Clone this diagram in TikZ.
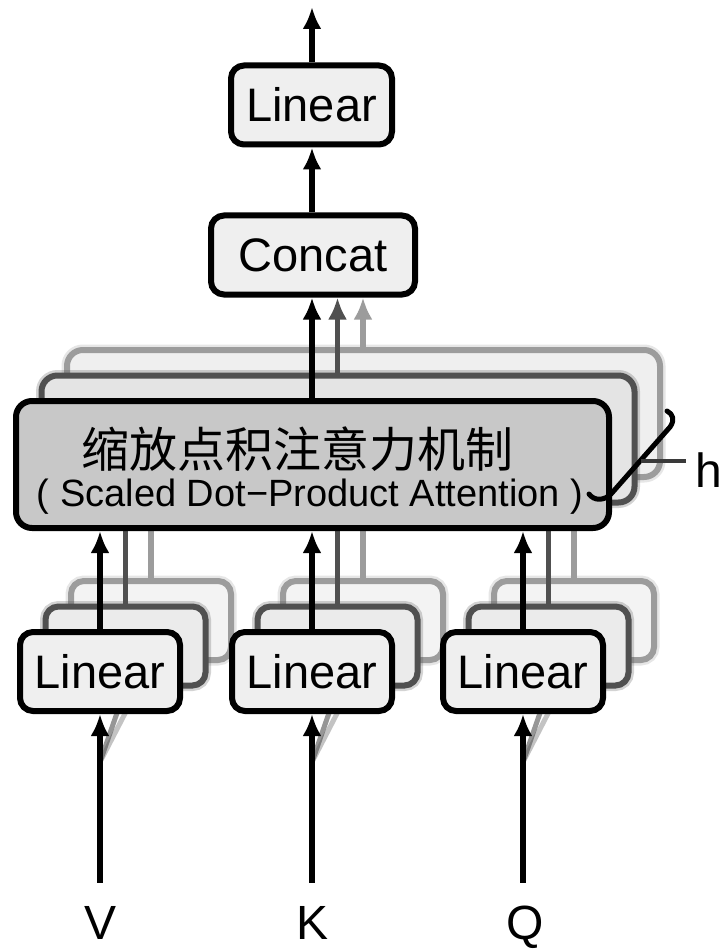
\documentclass[tikz,border=0pt]{standalone}
\usepackage{fontspec}
\setmainfont{Liberation Sans}
\newfontfamily\cjk{Noto Sans CJK SC}
\usetikzlibrary{arrows.meta}

\definecolor{edgeB}{HTML}{9C9C9C}
\definecolor{edgeM}{HTML}{505050}
\definecolor{linB}{HTML}{F3F3F3}
\definecolor{linM}{HTML}{EBEBEB}
\definecolor{linF}{HTML}{EFEFEF}
\definecolor{sdpB}{HTML}{EFEFEF}
\definecolor{sdpM}{HTML}{E4E4E4}
\definecolor{sdpF}{HTML}{C8C8C8}
\definecolor{hline}{HTML}{3A3A3A}

\tikzset{
  blk/.style={rounded corners=13pt, line width=6pt, draw=black, fill=linF,
    minimum width=160pt, minimum height=79pt, inner sep=0pt,
    font=\fontsize{47}{50}\selectfont},
  sdpabox/.style={rounded corners=16pt, line width=6pt, draw=black, fill=sdpF,
    minimum width=593pt, minimum height=127pt, inner sep=0pt},
  soft/.style={preaction={draw=#1, line width=11pt, opacity=0.25}},
  arr/.style={line width=5.5pt, -{Latex[length=22pt,width=19pt]}},
  feed/.style={line width=5pt, opacity=0.6},
  hookline/.style={line width=5pt, line cap=round, line join=round},
  lbl/.style={inner sep=0pt, font=\fontsize{48}{50}\selectfont},
}

\begin{document}
\begin{tikzpicture}[x=1pt,y=-1pt]
\useasboundingbox[fill=white] (0,0) rectangle (722,949);

% output stage
\node[blk, minimum width=161pt] (lin) at (311.5,105) {Linear};
\node[blk, minimum width=204pt] (cat) at (313,255) {Concat};
\coordinate (out) at (312,7);
\draw[arr] (lin.north -| out) -- (out);
\draw[arr] (cat.north -| out) -- (lin.south -| out);

% common sources of the inputs
\coordinate (srcV) at (100,762);
\coordinate (srcK) at (312,762);
\coordinate (srcQ) at (523,762);

% the h-1 stacked copies behind the front head
\foreach \k/\ec/\lf/\sf in {2/edgeB/linB/sdpB, 1/edgeM/linM/sdpM}{
  \begin{scope}[shift={(25.5*\k,-25.5*\k)}]
    \node[blk, draw=\ec, fill=\lf, soft=\ec] (linV\k) at (100,671.5) {};
    \node[blk, draw=\ec, fill=\lf, soft=\ec] (linK\k) at (312,671.5) {};
    \node[blk, draw=\ec, fill=\lf, soft=\ec] (linQ\k) at (523,671.5) {};
    \node[sdpabox, draw=\ec, fill=\sf, soft=\ec] (sd\k) at (312.5,464.5) {};
    \coordinate (up\k) at (312,0);
    \foreach \n in {V,K,Q}{
      \draw[arr, draw=\ec] (lin\n\k.north) -- (lin\n\k.north |- sd\k.south);
    }
    \draw[arr, draw=\ec] (up\k |- sd\k.north) -- (up\k |- cat.south);
  \end{scope}
  \foreach \n in {V,K,Q}{
    \draw[feed, draw=\ec] (src\n) -- (lin\n\k.south);
  }
}

% front head
\node[blk] (linV0) at (100,671.5) {Linear};
\node[blk] (linK0) at (312,671.5) {Linear};
\node[blk] (linQ0) at (523,671.5) {Linear};
\node[sdpabox] (sd0) at (312.5,464.5) {};
\node[inner sep=0pt, anchor=base, font=\cjk\fontsize{48}{50}\selectfont]
  (zh) at (297.5,467) {缩放点积注意力机制};
\node[inner sep=0pt, anchor=base, font=\fontsize{38}{40}\selectfont]
  (en) at (310,506) {( Scaled Dot−Product Attention )};
\foreach \n in {V,K,Q}{
  \draw[arr] (lin\n0.north) -- (lin\n0.north |- sd0.south);
}
\draw[arr] (sd0.north -| out) -- (cat.south -| out);

% inputs
\node[lbl, text height=34pt, text depth=0pt] (labV) at (101,922) {V};
\node[lbl, text height=34pt, text depth=0pt] (labK) at (313,922) {K};
\node[lbl, text height=34pt, text depth=0pt] (labQ) at (525,922) {Q};
\draw[arr, shorten <=22pt] (labV.north -| linV0) -- (linV0.south);
\draw[arr, shorten <=22pt] (labK.north -| linK0) -- (linK0.south);
\draw[arr, shorten <=22pt] (labQ.north -| linQ0) -- (linQ0.south);

% bracket marking the h heads
\draw[hookline] (589,494) .. controls (594,501) and (604,501) .. (611,494)
  -- (670,427) .. controls (675,420) and (673,414) .. (667,411);
\coordinate (hb) at (641,461);
\node[lbl, anchor=base west] (hl) at (695,487) {h};
\draw[line width=4pt, draw=hline, shorten >=9pt] (hb) -- (hb -| hl.west);
\end{tikzpicture}
\end{document}
